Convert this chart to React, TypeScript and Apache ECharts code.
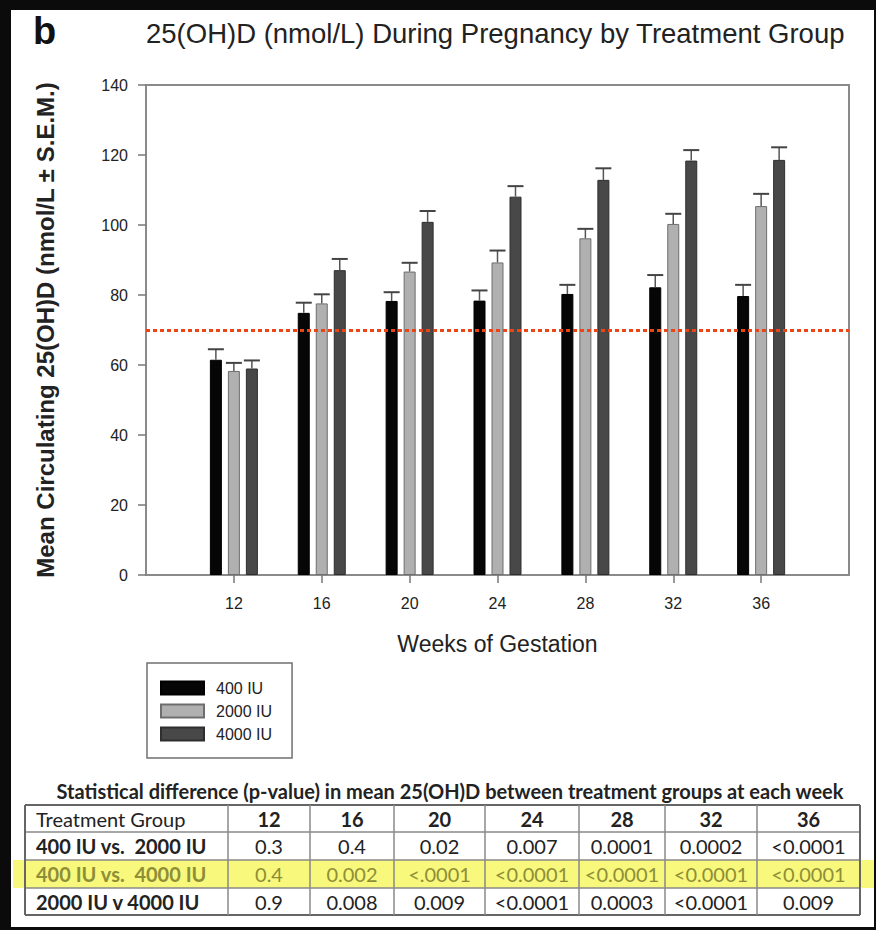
import React, { useEffect, useRef } from 'react';
import * as echarts from 'echarts';

// ---------- data ----------
const weeks = [12, 16, 20, 24, 28, 32, 36];
const seriesNames = ['400 IU', '2000 IU', '4000 IU'];
const mean400 = [61.5, 74.9, 78.3, 78.4, 80.3, 82.2, 79.7];
const mean2000 = [58.3, 77.6, 86.7, 89.3, 96.2, 100.3, 105.4];
const mean4000 = [59.0, 87.1, 100.9, 108.1, 112.9, 118.4, 118.6];
const sem400 = [3.0, 2.9, 2.5, 2.9, 2.6, 3.5, 3.2];
const sem2000 = [2.3, 2.6, 2.5, 3.4, 2.7, 2.9, 3.5];
const sem4000 = [2.3, 3.2, 3.1, 3.0, 3.3, 3.0, 3.6];
const targetLevel = 70;

const chartTitle = '25(OH)D (nmol/L) During Pregnancy by Treatment Group';
const panelLetter = 'b';
const yAxisName = 'Mean Circulating 25(OH)D (nmol/L \u00b1 S.E.M.)';
const xAxisName = 'Weeks of Gestation';

const tableTitle = 'Statistical difference (p-value) in mean 25(OH)D between treatment groups at each week';
const tableHeader = ['Treatment Group', '12', '16', '20', '24', '28', '32', '36'];
const rowLabels = ['400 IU vs.  2000 IU', '400 IU vs.  4000 IU', '2000 IU v 4000 IU'];
const p400v2000 = ['0.3', '0.4', '0.02', '0.007', '0.0001', '0.0002', '<0.0001'];
const p400v4000 = ['0.4', '0.002', '<.0001', '<0.0001', '<0.0001', '<0.0001', '<0.0001'];
const p2000v4000 = ['0.9', '0.008', '0.009', '<0.0001', '0.0003', '<0.0001', '0.009'];

// ---------- styling / layout ----------
const FONT = '"Liberation Sans", Arial, sans-serif';
const TFONT = 'Lato, "Open Sans", sans-serif';
const barColors = ['#060606', '#b0b0b0', '#484848'];
const barBorders = ['#000000', '#6e6e6e', '#2e2e2e'];
const BAR_W = 12;
const BAR_STEP = 18;
const colX = [25, 228, 310, 394, 485, 579, 665, 757, 860];
const rowY = [805, 832, 860, 888, 915];

function buildTable(): any[] {
  const els: any[] = [];
  const rows = [p400v2000, p400v4000, p2000v4000];
  els.push({
    type: 'rect', z: 1,
    shape: { x: 13, y: rowY[2], width: 861, height: rowY[3] - rowY[2] },
    style: { fill: '#f8f87c' },
  });
  els.push({
    type: 'text', z: 3, x: 450, y: 791,
    style: {
      text: tableTitle, fill: '#222', fontSize: 20, fontWeight: 'bold', fontFamily: TFONT,
      align: 'center', verticalAlign: 'middle', textAlign: 'center', textVerticalAlign: 'middle',
    },
  });
  rowY.forEach((y, i) => {
    const outer = i === 0 || i === rowY.length - 1;
    els.push({
      type: 'line', z: 2,
      shape: { x1: colX[0], y1: y, x2: colX[colX.length - 1], y2: y },
      style: { stroke: outer ? '#666' : '#8a8a8a', lineWidth: outer ? 2 : 1.5 },
    });
  });
  colX.forEach((x, i) => {
    const outer = i === 0 || i === colX.length - 1;
    els.push({
      type: 'line', z: 2,
      shape: { x1: x, y1: rowY[0], x2: x, y2: rowY[rowY.length - 1] },
      style: { stroke: outer ? '#666' : '#8a8a8a', lineWidth: outer ? 2 : 1.5 },
    });
  });
  const cellText = (text: string, col: number, row: number, color: string, weight: string) => {
    const cy = (rowY[row] + rowY[row + 1]) / 2;
    const left = col === 0;
    els.push({
      type: 'text', z: 3,
      x: left ? colX[0] + 11 : (colX[col] + colX[col + 1]) / 2,
      y: cy,
      style: {
        text, fill: color, fontSize: 20, fontWeight: weight, fontFamily: TFONT,
        align: left ? 'left' : 'center', verticalAlign: 'middle',
        textAlign: left ? 'left' : 'center', textVerticalAlign: 'middle',
      },
    });
  };
  tableHeader.forEach((t, c) => cellText(t, c, 0, '#222', c === 0 ? 'normal' : 'bold'));
  rows.forEach((vals, r) => {
    const color = r === 1 ? '#8e8e38' : '#222';
    cellText(rowLabels[r], 0, r + 1, color, 'bold');
    vals.forEach((v, c) => cellText(v, c + 1, r + 1, color, 'normal'));
  });
  return els;
}

function errorSeries(idx: number, means: number[], sems: number[]) {
  const offset = (idx - 1) * BAR_STEP;
  return {
    type: 'custom',
    name: seriesNames[idx] + ' SEM',
    z: 3,
    silent: true,
    data: weeks.map((w, i) => [w, means[i], sems[i]]),
    encode: { x: 0, y: 1 },
    renderItem: (params: any, api: any) => {
      const x = api.value(0);
      const y = api.value(1);
      const e = api.value(2);
      const base = api.coord([x, y]);
      const top = api.coord([x, y + e]);
      const cx = base[0] + offset;
      return {
        type: 'group',
        children: [
          { type: 'line', shape: { x1: cx, y1: base[1], x2: cx, y2: top[1] }, style: { stroke: '#555', lineWidth: 1.5 } },
          { type: 'line', shape: { x1: cx - 8, y1: top[1], x2: cx + 8, y2: top[1] }, style: { stroke: '#444', lineWidth: 2 } },
        ],
      };
    },
  };
}

export default function App() {
  const ref = useRef<HTMLDivElement>(null);
  useEffect(() => {
    if (!ref.current) return;
    const chart = echarts.init(ref.current, null, { renderer: 'svg' });
    const means = [mean400, mean2000, mean4000];
    const sems = [sem400, sem2000, sem4000];
    const barSeries = means.map((m, i) => ({
      type: 'bar',
      name: seriesNames[i],
      data: weeks.map((w, k) => [w, m[k]]),
      barWidth: BAR_W,
      barGap: '50%',
      itemStyle: { color: barColors[i], borderColor: barBorders[i], borderWidth: 1 },
      z: 2,
      ...(i === 0
        ? {
            markLine: {
              silent: true,
              symbol: ['none', 'none'],
              label: { show: false },
              lineStyle: { color: '#ea4418', type: [4, 3], width: 3 },
              data: [{ yAxis: targetLevel }],
            },
          }
        : {}),
    }));
    chart.setOption({
      animation: false,
      backgroundColor: 'transparent',
      textStyle: { fontFamily: FONT },
      title: [
        {
          text: panelLetter, left: 33, top: 12, padding: 0,
          textStyle: { fontSize: 38, fontWeight: 'bold', color: '#111', fontFamily: FONT },
        },
        {
          text: chartTitle, left: 146, top: 19, padding: 0,
          textStyle: { fontSize: 27.5, fontWeight: 'normal', color: '#222', fontFamily: FONT },
        },
      ],
      legend: {
        data: seriesNames,
        orient: 'vertical',
        left: 147,
        top: 663,
        padding: [17, 20, 16, 13],
        itemGap: 7,
        itemWidth: 43,
        itemHeight: 13,
        borderColor: '#707070',
        borderWidth: 1.5,
        icon: 'rect',
        textStyle: { fontSize: 16, color: '#222', fontFamily: FONT, padding: [0, 0, 0, 7] },
        selectedMode: false,
      },
      grid: {
        left: 146, top: 85, right: 27, bottom: 355,
        show: true, borderColor: '#8a8a8a', borderWidth: 2, backgroundColor: 'transparent',
      },
      xAxis: {
        type: 'value',
        min: 8,
        max: 40,
        interval: 4,
        name: xAxisName,
        nameLocation: 'middle',
        nameGap: 57,
        nameTextStyle: { fontSize: 23, color: '#222', fontFamily: FONT },
        axisLine: { show: true, lineStyle: { color: '#8a8a8a', width: 2 } },
        axisTick: { show: true, length: 8, customValues: weeks, lineStyle: { color: '#777', width: 1.5 } },
        axisLabel: { customValues: weeks, fontSize: 16, color: '#222', margin: 20 },
        splitLine: { show: false },
      },
      yAxis: {
        type: 'value',
        min: 0,
        max: 140,
        interval: 20,
        name: yAxisName,
        nameLocation: 'middle',
        nameRotate: 90,
        nameGap: 89,
        nameTextStyle: { fontSize: 24, fontWeight: 'bold', color: '#222', fontFamily: FONT },
        axisLine: { show: true, lineStyle: { color: '#8a8a8a', width: 2 } },
        axisTick: { show: true, length: 8, lineStyle: { color: '#777', width: 1.5 } },
        axisLabel: { fontSize: 16, color: '#222', margin: 18 },
        splitLine: { show: false },
      },
      series: [
        ...barSeries,
        errorSeries(0, mean400, sem400),
        errorSeries(1, mean2000, sem2000),
        errorSeries(2, mean4000, sem4000),
      ],
      graphic: { elements: buildTable() },
    });
    return () => chart.dispose();
  }, []);

  return (
    <div style={{ position: 'fixed', left: 0, top: 0, width: 876, height: 930, background: '#0b0b0b', overflow: 'hidden' }}>
      <div style={{ position: 'absolute', left: 11, top: 10, width: 863, height: 917, background: '#ffffff' }} />
      <div ref={ref} style={{ position: 'absolute', left: 0, top: 0, width: 876, height: 930 }} />
    </div>
  );
}
